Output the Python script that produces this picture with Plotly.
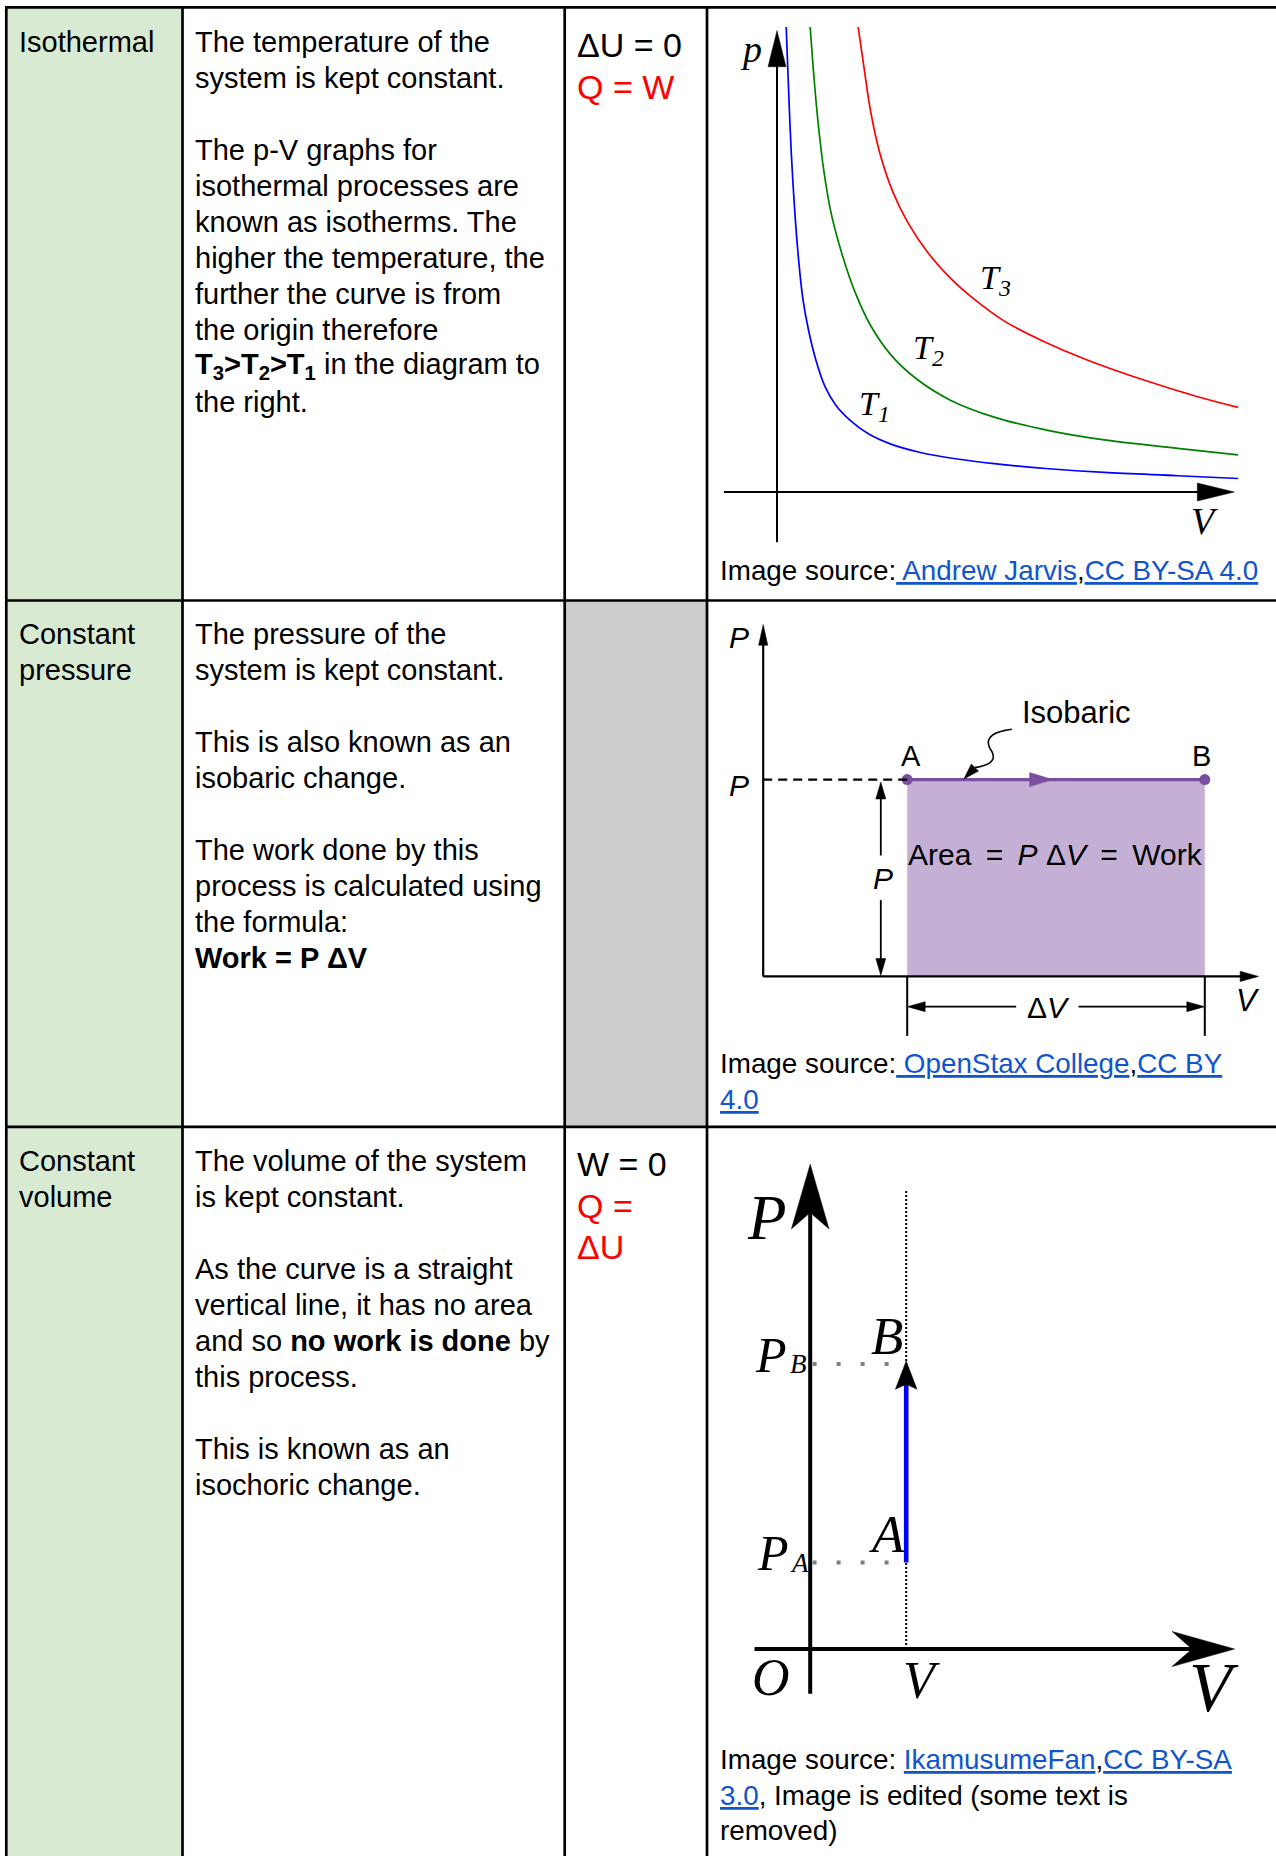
import math
import plotly.graph_objects as go

W, H = 1276, 1856

# ---- table text ----
PROCESSES = [["Isothermal"], ["Constant", "pressure"], ["Constant", "volume"]]

DESCRIPTIONS = [
    ["The temperature of the", "system is kept constant.", "",
     "The p-V graphs for", "isothermal processes are", "known as isotherms. The",
     "higher the temperature, the", "further the curve is from", "the origin therefore",
     "<b>T<sub>3</sub>&gt;T<sub>2</sub>&gt;T<sub>1</sub></b> in the diagram to", "the right."],
    ["The pressure of the", "system is kept constant.", "",
     "This is also known as an", "isobaric change.", "",
     "The work done by this", "process is calculated using", "the formula:",
     "<b>Work = P ΔV</b>"],
    ["The volume of the system", "is kept constant.", "",
     "As the curve is a straight", "vertical line, it has no area",
     "and so <b>no work is done</b> by", "this process.", "",
     "This is known as an", "isochoric change."],
]

# first line of each cell is black, the rest red
RESULTS = [["ΔU = 0", "Q = W"], [], ["W = 0", "Q =", "ΔU"]]

# (text, is_link) segments per caption line
CAPTIONS = [
    [[("Image source:", False), (" Andrew Jarvis", True), (",", False), ("CC BY-SA 4.0", True)]],
    [[("Image source:", False), (" OpenStax College", True), (",", False), ("CC BY", True)],
     [("4.0", True)]],
    [[("Image source: ", False), ("IkamusumeFan", True), (",", False), ("CC BY-SA", True)],
     [("3.0", True), (", Image is edited (some text is", False)],
     [("removed)", False)]],
]

# ---- diagram 1: isotherms (arbitrary V, p units) ----
T1_V = [0.20, 0.24, 0.31, 0.39, 0.47, 0.56, 0.68, 0.84, 1.04, 1.28, 1.60, 2.00, 2.47, 3.11,
        3.91, 4.71, 5.90, 7.10, 8.69, 10.0]
T1_P = [10.0, 8.94, 7.29, 5.97, 4.98, 4.16, 3.50, 2.85, 2.27, 1.86, 1.53, 1.24, 1.03, 0.85,
        0.71, 0.61, 0.50, 0.42, 0.35, 0.29]
T2_V = [0.72, 0.80, 0.90, 1.02, 1.18, 1.40, 1.68, 2.03, 2.47, 3.03, 3.75, 4.71, 5.90, 7.10, 8.69, 10.0]
T2_P = [10.0, 8.94, 7.86, 6.88, 5.97, 5.15, 4.33, 3.58, 2.95, 2.43, 1.98, 1.61, 1.32, 1.12, 0.94, 0.80]
T3_V = [1.76, 1.88, 2.03, 2.23, 2.51, 2.83, 3.27, 3.75, 4.31, 4.94, 5.74, 6.70, 7.89, 9.09, 10.0]
T3_P = [10.0, 9.18, 8.19, 7.29, 6.46, 5.81, 5.15, 4.61, 4.12, 3.67, 3.26, 2.85, 2.43, 2.06, 1.82]

# ---- diagram 2: isobaric ----
V_A, V_B, P_ISO = 3.0, 9.2, 4.1
LEADER_V = [5.18, 5.01, 4.83, 4.73, 4.69, 4.71, 4.78, 4.79, 4.72, 4.58, 4.41]
LEADER_P = [5.15, 5.12, 5.06, 4.98, 4.89, 4.78, 4.65, 4.54, 4.45, 4.39, 4.35]
LEADER_TIP = (4.18, 4.11)

# ---- diagram 3: isochoric ----
V_C, P_A, P_B = 2.0, 1.8, 6.0

SANS = "Liberation Sans, Arial, sans-serif"
SERIF = "Liberation Serif, Times New Roman, serif"
LINK = "#1155cc"
PURPLE = "#7b4f9f"

fig = go.Figure()
shapes, annots = [], []


def px(x, y):
    return x / W, 1 - y / H


def text_px(x, y, s, size, color="black", family=SANS, anchor="left"):
    xp, yp = px(x, y)
    annots.append(dict(xref="paper", yref="paper", x=xp, y=yp, text=s, showarrow=False,
                       xanchor=anchor, yanchor="middle",
                       font=dict(family=family, size=size, color=color)))


def setup_axes(n, cell, origin, unit):
    x0, y0, x1, y1 = cell
    ox, oy = origin
    ux, uy = unit
    sfx = "" if n == 1 else str(n)
    fig.layout["xaxis" + sfx] = dict(domain=[x0 / W, x1 / W], range=[(x0 - ox) / ux, (x1 - ox) / ux],
                                     visible=False, fixedrange=True, anchor="y" + sfx)
    fig.layout["yaxis" + sfx] = dict(domain=[1 - y1 / H, 1 - y0 / H], range=[(oy - y1) / uy, (oy - y0) / uy],
                                     visible=False, fixedrange=True, anchor="x" + sfx)
    return sfx, unit


def line(ax, x0, y0, x1, y1, width, color="black", dash=None, layer="above"):
    shapes.append(dict(type="line", xref="x" + ax, yref="y" + ax, x0=x0, y0=y0, x1=x1, y1=y1,
                       line=dict(color=color, width=width, dash=dash), layer=layer))


def head(ax, unit, tip, back, length, half, color="black", notch=0.0):
    ux, uy = unit
    dx, dy = (tip[0] - back[0]) * ux, (tip[1] - back[1]) * uy
    n = math.hypot(dx, dy)
    ex, ey = dx / n, dy / n
    pts = [(0, 0),
           (-ex * length - ey * half, -ey * length + ex * half),
           (-ex * (length - notch), -ey * (length - notch)),
           (-ex * length + ey * half, -ey * length - ex * half),
           (0, 0)]
    fig.add_trace(go.Scatter(x=[tip[0] + p[0] / ux for p in pts], y=[tip[1] + p[1] / uy for p in pts],
                             mode="lines", fill="toself", fillcolor=color,
                             line=dict(color=color, width=0.5), hoverinfo="skip",
                             xaxis="x" + ax, yaxis="y" + ax))


def label(ax, x, y, s, size, family=SERIF, color="black"):
    annots.append(dict(xref="x" + ax, yref="y" + ax, x=x, y=y, text=s, showarrow=False,
                       xanchor="center", yanchor="middle",
                       font=dict(family=family, size=size, color=color)))


# ---- table ----
ROW_TOP = [8, 600, 1127]
shapes.append(dict(type="rect", xref="paper", yref="paper", x0=6 / W, x1=182.5 / W, y0=0, y1=1 - 7 / H,
                   fillcolor="#d9ead3", line=dict(width=0), layer="below"))
shapes.append(dict(type="rect", xref="paper", yref="paper", x0=565 / W, x1=707 / W,
                   y0=1 - 1127 / H, y1=1 - 600 / H, fillcolor="#cccccc", line=dict(width=0), layer="below"))

for i, lines in enumerate(PROCESSES):
    for j, s in enumerate(lines):
        text_px(17, ROW_TOP[i] + 34 + 36 * j, s, 29)
for i, lines in enumerate(DESCRIPTIONS):
    for j, s in enumerate(lines):
        if s:
            text_px(192.7, ROW_TOP[i] + 34 + 36 * j, s, 29)
for i, lines in enumerate(RESULTS):
    for j, s in enumerate(lines):
        text_px(575.4, ROW_TOP[i] + 36.8 + 41.7 * j, s, 34, color="black" if j == 0 else "#ff0000")

CAPTION_Y = [570, 1063.5, 1759.5]
for i, lines in enumerate(CAPTIONS):
    for j, segs in enumerate(lines):
        s = "".join(f"<span style='color:{LINK}'><u>{t}</u></span>" if link else t for t, link in segs)
        text_px(718, CAPTION_Y[i] + 35.5 * j, s, 27.8)

# ---- diagram 1: isotherms ----
ax1, u1 = setup_axes(1, (708, 9, 1276, 599), (777, 492), (46.1, 46.5))
for vs, ps, col in [(T1_V, T1_P, "#0000ff"), (T2_V, T2_P, "#008000"), (T3_V, T3_P, "#ff0000")]:
    fig.add_trace(go.Scatter(x=vs, y=ps, mode="lines", line=dict(color=col, width=1.7, shape="spline", smoothing=1.0),
                             hoverinfo="skip", xaxis="x", yaxis="y"))
line(ax1, -1.15, 0, 9.3, 0, 2)
line(ax1, 0, -1.08, 0, 9.3, 2)
head(ax1, u1, (9.92, 0), (0, 0), 37, 9)
head(ax1, u1, (0, 9.92), (0, 0), 36, 9)
label(ax1, -0.56, 9.53, "<i>p</i>", 38)
label(ax1, 9.28, -0.62, "<i>V</i>", 38)
label(ax1, 4.74, 4.55, "<i>T<sub>3</sub></i>", 34)
label(ax1, 3.29, 3.05, "<i>T<sub>2</sub></i>", 34)
label(ax1, 2.11, 1.85, "<i>T<sub>1</sub></i>", 34)

# ---- diagram 2: isobaric ----
ax2, u2 = setup_axes(2, (708, 602, 1276, 1126), (763.2, 976.4), (48, 48))
shapes.append(dict(type="rect", xref="x2", yref="y2", x0=V_A, x1=V_B, y0=0, y1=P_ISO,
                   fillcolor="#c4b0d4", line=dict(width=0), layer="below"))
line(ax2, 0, 0, 10.0, 0, 2.2)
line(ax2, 0, 0, 0, 7.0, 2.2)
head(ax2, u2, (10.32, 0), (0, 0), 18.4, 5.2)
head(ax2, u2, (0, 7.33), (0, 0), 20.7, 4.6)
line(ax2, 0, P_ISO, V_A, P_ISO, 2.2, dash="9px,6px")
fig.add_trace(go.Scatter(x=[V_A, V_B], y=[P_ISO, P_ISO], mode="lines+markers",
                         line=dict(color=PURPLE, width=3.2), marker=dict(color=PURPLE, size=11),
                         hoverinfo="skip", xaxis="x2", yaxis="y2"))
head(ax2, u2, (6.03, P_ISO), (V_A, P_ISO), 23, 7, color=PURPLE)
fig.add_trace(go.Scatter(x=LEADER_V, y=LEADER_P, mode="lines",
                         line=dict(color="black", width=1.6, shape="spline"),
                         hoverinfo="skip", xaxis="x2", yaxis="y2"))
head(ax2, u2, LEADER_TIP, (LEADER_V[-1], LEADER_P[-1]), 16, 5)
# P dimension arrow
line(ax2, 2.45, P_ISO - 0.3, 2.45, 2.52, 1.8)
line(ax2, 2.45, 1.59, 2.45, 0.3, 1.8)
head(ax2, u2, (2.45, P_ISO - 0.05), (2.45, 0), 17, 5)
head(ax2, u2, (2.45, 0.02), (2.45, P_ISO), 17, 5)
# delta V dimension
line(ax2, V_A, 0, V_A, -1.24, 2)
line(ax2, V_B, 0, V_B, -1.24, 2)
line(ax2, V_A + 0.2, -0.63, 5.27, -0.63, 1.8)
line(ax2, 6.57, -0.63, V_B - 0.2, -0.63, 1.8)
head(ax2, u2, (V_A, -0.63), (V_B, -0.63), 18, 5)
head(ax2, u2, (V_B, -0.63), (V_A, -0.63), 18, 5)
label(ax2, -0.50, 7.06, "<i>P</i>", 30, family=SANS)
label(ax2, -0.50, 3.97, "<i>P</i>", 30, family=SANS)
label(ax2, 3.07, 4.60, "A", 29, family=SANS)
label(ax2, 9.13, 4.60, "B", 29, family=SANS)
label(ax2, 6.52, 5.49, "Isobaric", 31, family=SANS)
label(ax2, 6.09, 2.54, "Area\u2009 =\u2009 <i>P</i> Δ<i>V</i>\u2009 =\u2009 Work", 30, family=SANS)
label(ax2, 2.50, 2.05, "<i>P</i>", 30, family=SANS)
label(ax2, 5.95, -0.64, "Δ<i>V</i>", 30, family=SANS)
label(ax2, 10.1, -0.51, "<i>V</i>", 31, family=SANS)

# ---- diagram 3: isochoric ----
ax3, u3 = setup_axes(3, (708, 1128, 1276, 1856), (810.2, 1649), (48, 48))
line(ax3, -1.16, 0, 8.3, 0, 4)
line(ax3, 0, -0.93, 0, 9.6, 4)
head(ax3, u3, (8.84, 0), (0, 0), 62.5, 17.6, notch=20)
head(ax3, u3, (0, 10.1), (0, 0), 64.7, 18.8, notch=16.3)
line(ax3, V_C, 0, V_C, 9.55, 2, dash="2px,2px", layer="below")
line(ax3, 0.05, P_B - 0.06, V_C - 0.35, P_B - 0.06, 4, color="#7f7f7f", dash="4px,20px")
line(ax3, 0.05, P_A, V_C - 0.28, P_A, 4, color="#7f7f7f", dash="4px,20px")
fig.add_trace(go.Scatter(x=[V_C, V_C], y=[P_A, P_B - 0.5], mode="lines",
                         line=dict(color="#0000ff", width=4.6), hoverinfo="skip", xaxis="x3", yaxis="y3"))
head(ax3, u3, (V_C, P_B), (V_C, P_A), 28.3, 10.8, notch=5)
label(ax3, -0.92, 8.97, "<i>P</i>", 63)
label(ax3, -0.82, 6.13, "<i>P</i>", 50)
label(ax3, -0.25, 5.94, "<i>B</i>", 27)
label(ax3, -0.78, 2.0, "<i>P</i>", 50)
label(ax3, -0.23, 1.79, "<i>A</i>", 27)
label(ax3, 1.59, 6.53, "<i>B</i>", 53)
label(ax3, 1.59, 2.40, "<i>A</i>", 53)
label(ax3, -0.82, -0.59, "<i>O</i>", 52)
label(ax3, 2.32, -0.65, "<i>V</i>", 52)
label(ax3, 8.41, -0.81, "<i>V</i>", 70)

# table borders on top
for x in [6.3, 182.5, 564.7, 707]:
    shapes.append(dict(type="line", xref="paper", yref="paper", x0=x / W, x1=x / W, y0=0, y1=1 - 6 / H,
                       line=dict(color="black", width=2.7)))
for y in [7.3, 600.5, 1126.8]:
    shapes.append(dict(type="line", xref="paper", yref="paper", x0=5 / W, x1=1, y0=1 - y / H, y1=1 - y / H,
                       line=dict(color="black", width=2.7)))

fig.update_layout(width=W, height=H, margin=dict(l=0, r=0, t=0, b=0),
                  paper_bgcolor="white", plot_bgcolor="rgba(0,0,0,0)", showlegend=False,
                  shapes=shapes, annotations=annots)
# drop the browser's default 8px body margin so the figure sits at the page origin
fig.write_html("out.html", config={"displayModeBar": False},
               post_script="document.body.style.margin='0px'; document.body.style.overflow='hidden';")
